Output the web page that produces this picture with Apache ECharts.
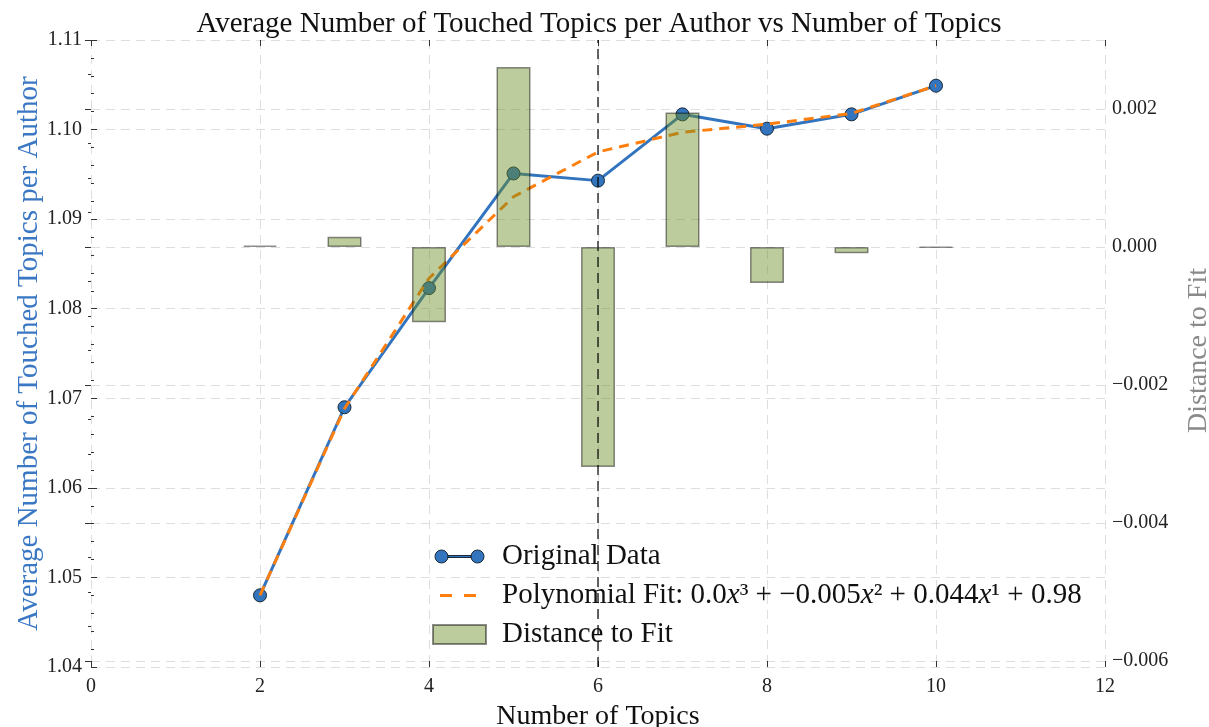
<!DOCTYPE html>
<html>
<head>
<meta charset="utf-8">
<title>Average Number of Touched Topics per Author vs Number of Topics</title>
<script src="https://cdn.jsdelivr.net/npm/echarts@6/dist/echarts.min.js"></script>
<style>
  html, body { margin: 0; padding: 0; background: #ffffff; }
  #chart { width: 1209px; height: 727px; }
</style>
</head>
<body>
<div id="chart"></div>
<script>
// Number of topics on the x axis
const topics = [2, 3, 4, 5, 6, 7, 8, 9, 10];
// Average number of touched topics per author (left axis)
const avgTouched = [1.0480, 1.0690, 1.0823, 1.0951, 1.0943, 1.1017, 1.1001, 1.1017, 1.1049];
// Polynomial fit evaluated at each topic count (left axis)
const polyFit = [1.0480, 1.06885, 1.0834, 1.0925, 1.0975, 1.0997, 1.1006, 1.1018, 1.1049];
// Distance between data and fit (right axis)
const distToFit = [0.00002, 0.00015, -0.00109, 0.00261, -0.00319, 0.00195, -0.00052, -0.00009, -0.00001];
// Fit coefficients, highest power first
const fitCoefs = ['0.0', '-0.005', '0.044', '0.98'];
// Highlighted topic count
const markedTopic = 6;

// Axis ranges and tick steps
const xRange = [0, 12], xStep = 2;
const leftRange = [1.04, 1.11], leftStep = 0.01;
const rightRange = [-0.006, 0.003], rightStep = 0.002;

const FONT = '"Liberation Serif", "DejaVu Serif", serif';
const BLUE = '#3274be';
const ORANGE = '#ff7f0e';
const GRID_LINE = { show: true, lineStyle: { color: '#dedede', type: [9, 6], width: 1 } };
const TICK = { show: true, inside: true, length: 6, lineStyle: { color: '#333', width: 1 } };
const MINOR = (n) => ({ show: true, splitNumber: n, length: 3, lineStyle: { color: '#333', width: 1 } });

const pairs = (ys) => topics.map((x, i) => [x, ys[i]]);
const minus = (s) => String(s).replace('-', '\u2212');

const fitLabel = 'Polynomial Fit: ' +
  minus(fitCoefs[0]) + '{it|x}\u00b3 + ' +
  minus(fitCoefs[1]) + '{it|x}\u00b2 + ' +
  minus(fitCoefs[2]) + '{it|x}\u00b9 + ' +
  minus(fitCoefs[3]);

const chart = echarts.init(document.getElementById('chart'), null, { renderer: 'canvas' });

const option = {
  backgroundColor: '#ffffff',
  animation: false,
  textStyle: { fontFamily: FONT },
  title: {
    text: 'Average Number of Touched Topics per Author vs Number of Topics',
    left: 594,
    textAlign: 'center',
    top: 5,
    textStyle: { fontFamily: FONT, fontSize: 29, fontWeight: 'normal', color: '#111' }
  },
  grid: [
    { left: 91, right: 104, top: 40, bottom: 60, outerBoundsMode: 'none', containLabel: false },
    { left: 91, right: 104, top: 40, bottom: 66, outerBoundsMode: 'none', containLabel: false }
  ],
  xAxis: [
    {
      type: 'value', gridIndex: 0, min: xRange[0], max: xRange[1], interval: xStep,
      position: 'bottom',
      name: 'Number of Topics', nameLocation: 'middle', nameGap: 36, nameMoveOverlap: false,
      nameTextStyle: { fontFamily: FONT, fontSize: 28, color: '#111' },
      axisLine: { show: false },
      axisTick: TICK,
      axisLabel: { margin: 10, fontFamily: FONT, fontSize: 20, color: '#222' },
      splitLine: GRID_LINE
    },
    {
      type: 'value', gridIndex: 0, min: xRange[0], max: xRange[1], interval: xStep,
      position: 'top',
      axisLine: { show: false },
      axisTick: TICK,
      axisLabel: { show: false },
      splitLine: { show: false }
    },
    {
      type: 'value', gridIndex: 1, min: xRange[0], max: xRange[1], interval: xStep,
      show: false
    }
  ],
  yAxis: [
    {
      type: 'value', gridIndex: 0, min: leftRange[0], max: leftRange[1], interval: leftStep,
      position: 'left',
      name: 'Average Number of Touched Topics per Author', nameLocation: 'middle', nameGap: 47,
      nameMoveOverlap: false,
      nameTextStyle: { fontFamily: FONT, fontSize: 29, color: '#3a78c4' },
      axisLine: { show: false },
      axisTick: TICK,
      minorTick: MINOR(5),
      axisLabel: { margin: 9, fontFamily: FONT, fontSize: 20, color: '#222',
        formatter: (v) => v.toFixed(2) },
      splitLine: GRID_LINE
    },
    {
      type: 'value', gridIndex: 1, min: rightRange[0], max: rightRange[1], interval: rightStep,
      position: 'right',
      name: 'Distance to Fit', nameLocation: 'middle', nameGap: 80,
      nameTextStyle: { fontFamily: FONT, fontSize: 28, color: '#8a8a8a' },
      axisLine: { show: false },
      axisTick: TICK,
      minorTick: MINOR(4),
      axisLabel: { margin: 7, fontFamily: FONT, fontSize: 20, color: '#222', showMaxLabel: false,
        formatter: (v) => minus(v.toFixed(3)) },
      splitLine: GRID_LINE
    }
  ],
  legend: {
    orient: 'vertical',
    left: 427,
    top: 537,
    itemWidth: 53,
    itemHeight: 19,
    itemGap: 10,
    backgroundColor: 'transparent',
    textStyle: {
      fontFamily: FONT, fontSize: 29, color: '#111', padding: [0, 0, 0, 11],
      rich: { it: { fontFamily: FONT, fontSize: 29, fontStyle: 'italic', color: '#111' } }
    },
    formatter: (name) => name === 'Polynomial Fit' ? fitLabel : name,
    data: [
      {
        name: 'Original Data',
        icon: 'path://M0 0M53 19M2 9.5a6.5 6.5 0 1 0 13 0a6.5 6.5 0 1 0 -13 0ZM15 8.5H38V10.5H15ZM38 9.5a6.5 6.5 0 1 0 13 0a6.5 6.5 0 1 0 -13 0Z',
        itemStyle: { color: BLUE, borderColor: '#1a2a3a', borderWidth: 1 }
      },
      {
        name: 'Polynomial Fit',
        icon: 'path://M0 0M53 19M7 8H19V11H7ZM31 8H43V11H31Z',
        itemStyle: { color: ORANGE, borderWidth: 0 }
      },
      {
        name: 'Distance to Fit',
        icon: 'rect'
      }
    ]
  },
  series: [
    {
      name: 'Original Data',
      type: 'line',
      xAxisIndex: 0, yAxisIndex: 0,
      data: pairs(avgTouched),
      z: 2,
      symbol: 'circle', symbolSize: 13,
      lineStyle: { color: BLUE, width: 3 },
      itemStyle: { color: BLUE, borderColor: '#1a2a3a', borderWidth: 1 },
      markLine: {
        silent: true,
        z: 6,
        symbol: ['none', 'none'],
        label: { show: false },
        lineStyle: { color: 'rgba(0,0,0,0.6)', type: [10, 6], width: 2 },
        data: [{ xAxis: markedTopic }]
      }
    },
    {
      name: 'Polynomial Fit',
      type: 'line',
      xAxisIndex: 0, yAxisIndex: 0,
      data: pairs(polyFit),
      z: 3,
      symbol: 'none',
      lineStyle: { color: ORANGE, width: 3, type: [10, 7] },
      itemStyle: { color: ORANGE }
    },
    {
      name: 'Distance to Fit',
      type: 'bar',
      xAxisIndex: 2, yAxisIndex: 1,
      data: pairs(distToFit),
      z: 4,
      barWidth: 34,
      itemStyle: { color: 'rgba(107,142,35,0.45)', borderColor: 'rgba(0,0,0,0.45)', borderWidth: 1.5 }
    }
  ]
};

chart.setOption(option);
</script>
</body>
</html>
